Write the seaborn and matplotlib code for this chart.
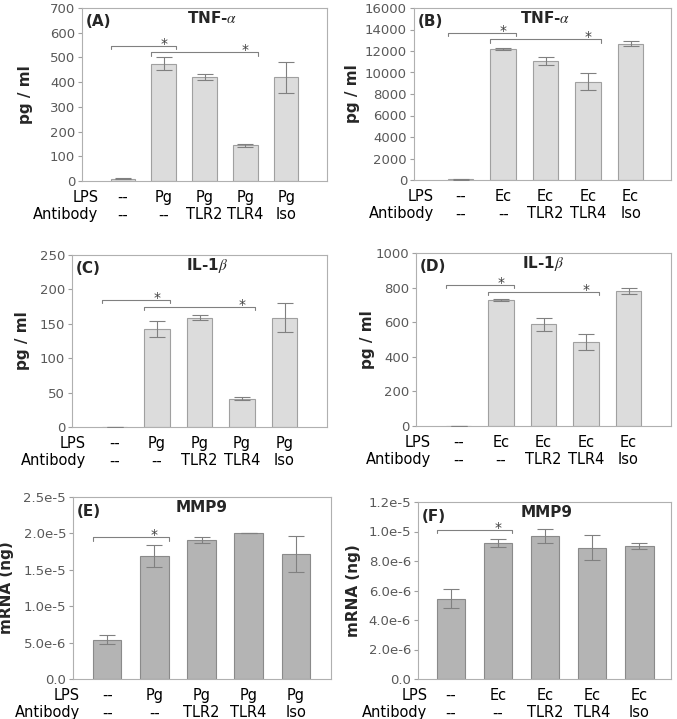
import matplotlib
matplotlib.use("Agg")
import matplotlib.pyplot as plt
import seaborn as sns

positions = [1, 2, 3, 4, 5]
lps_pg = ["--", "Pg", "Pg", "Pg", "Pg"]
lps_ec = ["--", "Ec", "Ec", "Ec", "Ec"]
antibody = ["--", "--", "TLR2", "TLR4", "Iso"]

tnf_pg = [10, 474, 420, 144, 420]
tnf_pg_err = [2, 26, 12, 5, 62]
tnf_ec = [50, 12200, 11080, 9140, 12690]
tnf_ec_err = [20, 80, 400, 780, 260]
il1b_pg = [0, 143, 159, 41, 159]
il1b_pg_err = [0, 11.5, 4, 2, 21]
il1b_ec = [0, 727, 589, 484, 781]
il1b_ec_err = [0, 5, 38, 46, 18]
mmp9_pg = [5.4e-6, 16.9e-6, 19.1e-6, 20.0e-6, 17.2e-6]
mmp9_pg_err = [0.6e-6, 1.45e-6, 0.45e-6, 0, 2.5e-6]
mmp9_ec = [5.45e-6, 9.2e-6, 9.7e-6, 8.9e-6, 9.0e-6]
mmp9_ec_err = [0.65e-6, 0.27e-6, 0.48e-6, 0.86e-6, 0.2e-6]

# significance brackets: (from bar, to bar, height)
sig_a = [(1, 2, 545), (2, 4, 520)]
sig_b = [(1, 2, 13690), (2, 4, 13070)]
sig_c = [(1, 2, 184.5), (2, 4, 174)]
sig_d = [(1, 2, 814), (2, 4, 774)]
sig_e = [(1, 2, 19.45e-6)]
sig_f = [(1, 2, 10.1e-6)]

mmp9_pg_ticks = [0, 5e-6, 1e-5, 1.5e-5, 2e-5, 2.5e-5]
mmp9_pg_labels = ["0.0", "5.0e-6", "1.0e-5", "1.5e-5", "2.0e-5", "2.5e-5"]
mmp9_ec_ticks = [0, 2e-6, 4e-6, 6e-6, 8e-6, 1e-5, 1.2e-5]
mmp9_ec_labels = ["0.0", "2.0e-6", "4.0e-6", "6.0e-6", "8.0e-6", "1.0e-5", "1.2e-5"]

sns.set_style("ticks")
plt.rcParams["font.family"] = ["DejaVu Sans"]
plt.rcParams["mathtext.fontset"] = "stix"

W, H = 677, 719
fig = plt.figure(figsize=(W / 100, H / 100), dpi=100)

LIGHT = ("#dcdcdc", "#a0a0a0")
DARK = ("#b4b4b4", "#8a8a8a")
TNF = r"TNF-$\alpha$"
IL1B = r"IL-1$\beta$"


def draw_panel(box, vals, errs, lps, ymax, yticks, ylabels, ylabel, tag, title,
               colors, sig, xlim, row_x, ylab_x, title_x):
    l, t, r, b = box
    ax = fig.add_axes([l / W, 1 - b / H, (r - l) / W, (b - t) / H])
    sns.barplot(x=positions, y=vals, native_scale=True, width=0.6,
                color=colors[0], edgecolor=colors[1], linewidth=0.8,
                saturation=1, errorbar=None, ax=ax)
    ax.errorbar(positions, vals, yerr=errs, fmt="none", ecolor="#808080",
                elinewidth=0.8, capsize=6, capthick=0.8, zorder=3)

    tick = ymax * 0.018
    for a, c, h in sig:
        x1, x2 = a - 0.3, c + 0.3
        ax.plot([x1, x1, x2, x2], [h - tick, h, h, h - tick],
                color="#808080", lw=0.8)
        ax.annotate("*", (c, h), xytext=(0, 1.5), textcoords="offset points",
                    ha="center", va="center", fontsize=10, color="#404040")

    ax.set_xlim(*xlim)
    ax.set_ylim(0, ymax)
    if ylabels is None:
        ax.set_yticks(yticks)
    else:
        ax.set_yticks(yticks, ylabels)
    ax.set_xticks([row_x] + positions,
                  ["LPS\nAntibody"] + [f"{p}\n{q}" for p, q in zip(lps, antibody)])
    ax.get_xticklabels()[0].set_horizontalalignment("right")
    ax.tick_params(axis="x", length=0, pad=6.5, labelsize=10.5, labelcolor="black")
    ax.tick_params(axis="y", length=3, width=0.8, color="#a0a0a0", pad=2,
                   labelsize=9.5, labelcolor="#595959")
    for s in ax.spines.values():
        s.set_color("#b0b0b0")
        s.set_linewidth(0.8)

    ax.set_xlabel("")
    ax.set_ylabel(ylabel, fontsize=11, fontweight="bold")
    ax.yaxis.set_label_coords(ylab_x, 0.5)
    ax.text(0.015, 0.92, tag, transform=ax.transAxes, ha="left", va="center",
            fontsize=11, fontweight="bold")
    ax.text(title_x, 0.94, title, transform=ax.transAxes, ha="center",
            va="center", fontsize=11, fontweight="bold")
    return ax


draw_panel((82, 8, 327, 181), tnf_pg, tnf_pg_err, lps_pg, 700,
           range(0, 701, 100), None, "pg / ml", "(A)", TNF, LIGHT, sig_a,
           (0, 6), 0.4, -0.2, 0.53)
draw_panel((414, 8, 671, 180), tnf_ec, tnf_ec_err, lps_ec, 16000,
           range(0, 16001, 2000), None, "pg / ml", "(B)", TNF, LIGHT, sig_b,
           (-0.1, 5.95), 0.37, -0.21, 0.51)
draw_panel((72, 255, 327, 427), il1b_pg, il1b_pg_err, lps_pg, 250,
           range(0, 251, 50), None, "pg / ml", "(C)", IL1B, LIGHT, sig_c,
           (0, 6), 0.33, -0.165, 0.53)
draw_panel((416, 253, 671, 426), il1b_ec, il1b_ec_err, lps_ec, 1000,
           range(0, 1001, 200), None, "pg / ml", "(D)", IL1B, LIGHT, sig_d,
           (0, 6), 0.35, -0.16, 0.50)
draw_panel((73, 497, 331, 679), mmp9_pg, mmp9_pg_err, lps_pg, 2.5e-5,
           mmp9_pg_ticks, mmp9_pg_labels, "mRNA (ng)", "(E)", "MMP9", DARK,
           sig_e, (0.27, 5.75), 0.42, -0.23, 0.5)
draw_panel((418, 502, 671, 679), mmp9_ec, mmp9_ec_err, lps_ec, 1.2e-5,
           mmp9_ec_ticks, mmp9_ec_labels, "mRNA (ng)", "(F)", "MMP9", DARK,
           sig_f, (0.3, 5.67), 0.5, -0.225, 0.51)

fig.savefig("out.png", dpi=100)
